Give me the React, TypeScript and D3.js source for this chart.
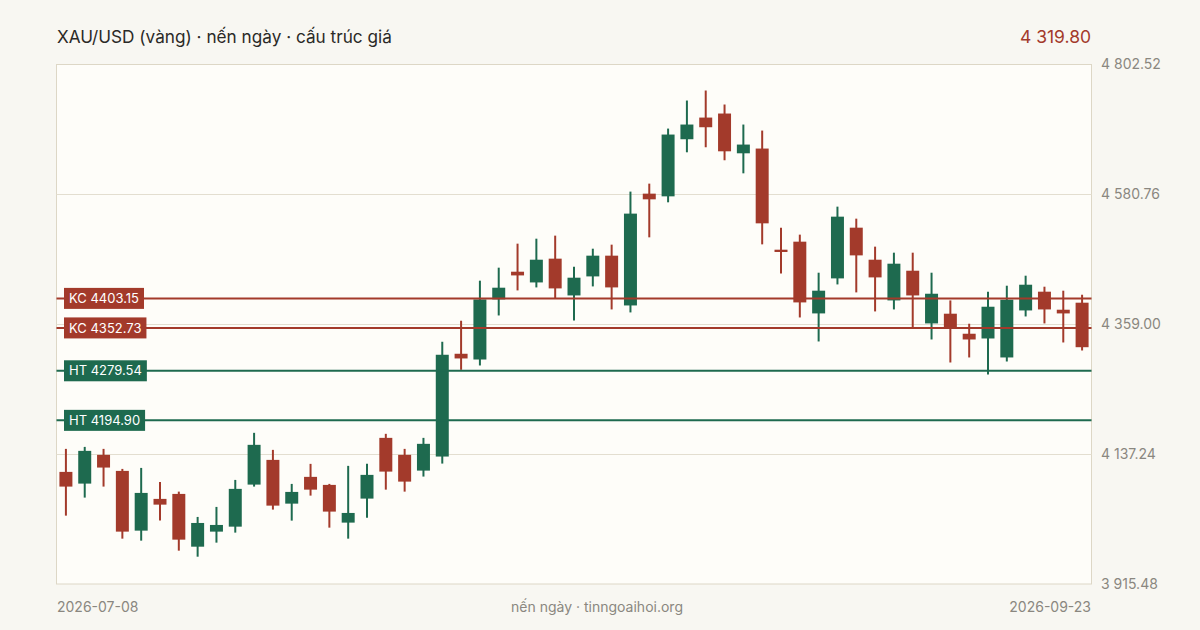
import React from "react";
import * as d3 from "d3";

const dates = [
  "2026-07-08","2026-07-09","2026-07-10","2026-07-13","2026-07-14","2026-07-15","2026-07-16","2026-07-17",
  "2026-07-20","2026-07-21","2026-07-22","2026-07-23","2026-07-24","2026-07-27","2026-07-28","2026-07-29",
  "2026-07-30","2026-07-31","2026-08-03","2026-08-04","2026-08-05","2026-08-06","2026-08-07","2026-08-10",
  "2026-08-11","2026-08-12","2026-08-13","2026-08-14","2026-08-17","2026-08-18","2026-08-19","2026-08-20",
  "2026-08-21","2026-08-24","2026-08-25","2026-08-26","2026-08-27","2026-08-28","2026-08-31","2026-09-01",
  "2026-09-02","2026-09-03","2026-09-04","2026-09-08","2026-09-09","2026-09-10","2026-09-11","2026-09-14",
  "2026-09-15","2026-09-16","2026-09-17","2026-09-18","2026-09-21","2026-09-22","2026-09-23",
];

const open = [
  4106.9,4086.9,4136.0,4108.6,4006.6,4060.8,4069.3,3979.2,4004.9,4013.4,4085.2,4127.4,4052.7,4098.4,4084.7,4020.3,
  4061.3,4165.0,4136.0,4109.1,4133.1,4308.6,4298.8,4401.4,4448.7,4430.4,4471.0,4408.2,4440.7,4476.1,4391.1,4582.0,
  4577.4,4674.9,4711.9,4718.8,4650.9,4659.0,4486.3,4500.0,4377.5,4437.3,4523.9,4469.2,4399.7,4450.4,4360.4,4377.0,
  4342.8,4334.7,4302.3,4382.6,4414.6,4383.8,4395.8,
];
const high = [
  4146.2,4149.6,4146.2,4112.0,4113.7,4089.8,4073.2,4030.0,4047.1,4093.2,4173.6,4144.5,4086.4,4120.6,4086.4,4117.2,
  4120.6,4171.9,4146.2,4165.0,4329.1,4365.0,4433.4,4455.6,4496.6,4505.1,4510.3,4457.3,4488.0,4494.9,4585.5,4599.1,
  4693.1,4741.0,4758.1,4734.2,4700.0,4689.7,4523.9,4512.0,4447.0,4559.8,4539.3,4491.5,4481.2,4481.2,4447.0,4399.7,
  4359.9,4414.6,4424.8,4441.9,4423.1,4416.3,4409.4,
];
const low = [
  4032.2,4063.0,4081.8,3992.9,3989.5,4023.7,3972.4,3962.1,3986.1,4003.2,4081.8,4042.5,4023.7,4066.4,4011.7,3992.9,
  4028.8,4076.6,4073.2,4098.9,4121.1,4281.2,4288.6,4374.0,4416.8,4421.9,4403.1,4365.5,4423.6,4384.3,4379.2,4507.4,
  4567.2,4652.6,4661.2,4639.0,4616.7,4495.4,4445.8,4370.6,4329.6,4427.0,4413.4,4380.9,4384.3,4353.5,4333.0,4293.7,
  4302.3,4273.2,4295.4,4372.3,4360.4,4327.9,4314.2,
];
const close = [
  4081.8,4142.8,4114.3,4004.9,4071.0,4051.0,3991.2,4019.7,4016.3,4077.9,4153.1,4049.3,4072.7,4076.6,4039.1,4036.8,
  4101.8,4107.4,4090.3,4154.8,4306.9,4300.6,4401.4,4421.4,4442.4,4469.2,4420.2,4438.5,4476.1,4421.9,4547.9,4572.3,
  4682.9,4700.0,4695.4,4654.3,4665.8,4531.3,4482.4,4396.3,4416.3,4542.7,4476.6,4439.0,4462.4,4408.2,4411.1,4351.8,
  4333.0,4388.9,4400.9,4426.5,4384.3,4377.5,4319.8,
];

const yTicks = [3915.48, 4137.24, 4359.0, 4580.76, 4802.52];
const levelNames = ["KC", "KC", "HT", "HT"];
const levelValues = [4403.15, 4352.73, 4279.54, 4194.9];
const levelKinds = ["res", "res", "sup", "sup"];

const title = "XAU/USD (vàng) · nến ngày · cấu trúc giá";
const footer = "nến ngày · tinngoaihoi.org";

const W = 1200;
const H = 630;
const L = 56.5;
const R = 1091.5;
const T = 64.5;
const B = 584;

const RED = "#a33a2b";
const GREEN = "#1e6a4f";
const FONT = "Inter, 'Noto Sans', sans-serif";

const locale = d3.formatLocale({ decimal: ".", thousands: "\u2009", grouping: [3], currency: ["", ""] });
const fmt = (v: number) => locale.format(",.2f")(v).replace("\u2009", " ");

let ctx: CanvasRenderingContext2D | null = null;
function measure(text: string, size: number) {
  if (!ctx && typeof document !== "undefined") ctx = document.createElement("canvas").getContext("2d");
  if (!ctx) return text.length * size * 0.55;
  ctx.font = `${size}px Inter`;
  return ctx.measureText(text).width;
}

export default function App() {
  const x = d3.scaleBand<string>().domain(dates).range([L, R]).paddingInner(0.31).paddingOuter(0.155);
  const y = d3.scaleLinear().domain([yTicks[0], yTicks[yTicks.length - 1]]).range([B, T]);
  const bw = x.bandwidth();
  const last = close[close.length - 1];

  return (
    <svg width={W} height={H} style={{ display: "block", fontFamily: FONT }}>
      <style>{`body{margin:0}`}</style>
      <rect x={0} y={0} width={W} height={H} fill="#f8f7f2" />
      <text x={57} y={43} fontSize={17.2} fill="#2b2a27">{title}</text>
      <text x={1091} y={43} fontSize={17.5} fill={RED} textAnchor="end">{fmt(last)}</text>

      <rect x={L} y={T} width={R - L} height={B - T} fill="#fefdf9" stroke="#ddd7c6" strokeWidth={1} />
      {yTicks.slice(1, -1).map((t, i) => (
        <line key={i} x1={L} x2={R} y1={Math.round(y(t)) + 0.5} y2={Math.round(y(t)) + 0.5} stroke="#e3ded0" strokeWidth={1} />
      ))}
      {yTicks.map((t, i) => (
        <text key={i} x={1101} y={y(t)} dy="0.35em" fontSize={14} fill="#8a8780">{fmt(t)}</text>
      ))}

      {dates.map((d, i) => {
        const up = close[i] >= open[i];
        const c = up ? GREEN : RED;
        const cx = (x(d) as number) + bw / 2;
        const top = y(Math.max(open[i], close[i]));
        const bot = y(Math.min(open[i], close[i]));
        return (
          <g key={d}>
            <line x1={cx} x2={cx} y1={y(high[i])} y2={y(low[i])} stroke={c} strokeWidth={2} />
            <rect x={cx - bw / 2} y={top} width={bw} height={Math.max(2, bot - top)} fill={c} />
          </g>
        );
      })}

      {levelValues.map((v, i) => {
        const c = levelKinds[i] === "res" ? RED : GREEN;
        const label = `${levelNames[i]} ${v.toFixed(2)}`;
        const w = measure(label, 13) + 10;
        return (
          <g key={i}>
            <line x1={L} x2={R} y1={y(v)} y2={y(v)} stroke={c} strokeWidth={2} />
            <rect x={64} y={y(v) - 10.5} width={w} height={21} fill={c} />
            <text x={69} y={y(v)} dy="0.36em" fontSize={13} fill="#ffffff">{label}</text>
          </g>
        );
      })}

      <text x={57} y={612} fontSize={14} fill="#8a8780">{dates[0]}</text>
      <text x={597} y={612} fontSize={14} fill="#8a8780" textAnchor="middle">{footer}</text>
      <text x={1091} y={612} fontSize={14} fill="#8a8780" textAnchor="end">{dates[dates.length - 1]}</text>
    </svg>
  );
}
